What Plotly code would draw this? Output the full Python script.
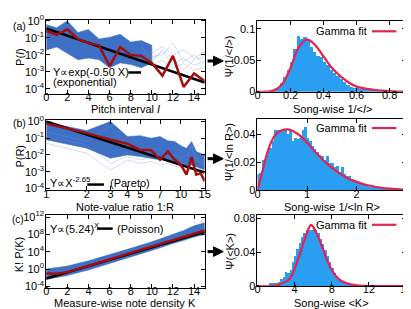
import numpy as np
import plotly.graph_objects as go

W, H = 411, 309
def px(x): return x / W
def py(y): return 1 - y / H

# ---------------- DATA ----------------
# (a) pitch interval
a_x = list(range(0, 16))
a_red_log10 = [-0.60, -0.82, -0.50, -1.07, -1.31, -1.44, -2.66, -1.54, -2.00, -2.06, -2.47, -3.22, -2.06, -3.88, -3.09, -3.54]
a_fit_x = [0, 15]
a_fit_log10 = [-0.45, -3.62]
a_band_x = list(range(0, 11))
a_band_hi_log10 = [-0.22, -0.41, 0.0, -0.69, -0.51, -1.07, -0.97, -0.79, -1.25, -1.16, -1.44]
a_band_lo_log10 = [-1.72, -1.54, -1.91, -2.28, -2.19, -2.28, -2.75, -2.47, -2.57, -2.75, -2.47]
a_tail_x = [9, 10, 11, 12, 13, 14, 15]
a_tail_log10 = [
    [-1.6, -1.9, -1.5, -2.0, -1.7, -2.2, -1.8],
    [-2.0, -2.3, -1.8, -2.5, -2.2, -2.6, -2.4],
    [-2.2, -2.6, -2.3, -2.8, -2.5, -2.9, -2.7],
    [-1.8, -2.1, -2.0, -1.3, -2.4, -2.0, -2.5],
    [-1.5, -2.4, -1.7, -2.2, -2.9, -2.3, -2.1],
]

# (b) note-value ratio
b_x = [1, 2, 3, 4, 5, 6, 7, 8, 9, 10, 11, 12, 13, 14, 15]
b_red_log10 = [-0.13, -0.70, -1.09, -1.33, -1.71, -1.71, -2.29, -1.79, -2.29, -2.61, -3.18, -2.13, -3.18, -3.09, -3.56]
b_fit_x = [1, 15]
b_fit_log10 = [0.0, -3.05]
b_band_x = [1, 2, 3, 4, 5, 6, 7, 8, 9, 10, 11, 12, 13, 14, 15]
b_band_hi_log10 = [-0.05, -0.55, 0.0, -0.9, -0.85, -1.0, -0.9, -1.15, -1.2, -1.45, -1.6, -1.2, -1.8, -1.9, -2.0]
b_band_lo_log10 = [-1.1, -1.6, -2.2, -2.0, -2.1, -2.2, -2.3, -2.3, -2.4, -2.5, -2.6, -2.6, -2.7, -2.8, -2.9]
b_tail_log10 = [
    [-1.3, -1.9, -2.9, -2.3, -2.5, -2.4, -2.6, -2.5, -2.7, -2.7, -2.9, -2.8, -3.0, -2.9, -3.1],
    [-0.9, -1.4, -2.5, -2.1, -2.3, -2.1, -2.2, -2.4, -2.3, -2.6, -2.4, -1.4, -2.3, -2.5, -2.2],
    [-0.6, -1.2, -0.3, -1.5, -1.8, -1.6, -1.7, -1.9, -2.0, -2.2, -2.0, -1.6, -2.1, -2.4, -2.6],
]

# (c) note density
c_x = list(range(0, 16))
c_red_log10 = [-1.0, -1.05, -0.7, 0.0, 0.8, 1.5, 2.2, 3.0, 3.75, 4.4, 5.1, 5.9, 6.7, 7.4, 8.1, 8.9]
c_fit_x = [0, 15]
c_fit_log10 = [-2.2, 8.6]
c_band_x = [0, 2, 4, 6, 8, 10, 12, 13, 14, 15]
c_band_hi_log10 = [0.0, 0.7, 1.9, 3.3, 4.8, 6.3, 8.0, 8.9, 10.0, 10.7]
c_band_lo_log10 = [-2.4, -1.5, -0.2, 1.3, 2.8, 4.3, 5.9, 6.6, 7.4, 8.0]

# right (a) histogram of 1/<I>
ha_x = [0.09, 0.11, 0.13, 0.15, 0.17, 0.19, 0.21, 0.23, 0.25, 0.27, 0.29, 0.31, 0.33, 0.35, 0.37, 0.39,
        0.41, 0.43, 0.45, 0.47, 0.49, 0.51, 0.53, 0.55, 0.57, 0.59, 0.61, 0.63, 0.65, 0.67, 0.69, 0.71,
        0.73, 0.75, 0.77]
ha_y = [0.001, 0.003, 0.007, 0.014, 0.023, 0.035, 0.048, 0.069, 0.089, 0.085, 0.088, 0.082, 0.072, 0.064,
        0.058, 0.055, 0.048, 0.043, 0.035, 0.030, 0.025, 0.020, 0.015, 0.011, 0.008, 0.007, 0.006, 0.005,
        0.004, 0.003, 0.002, 0.002, 0.001, 0.001, 0.001]
ga_x = [0.0, 0.05, 0.1, 0.15, 0.2, 0.25, 0.3, 0.35, 0.4, 0.45, 0.5, 0.55, 0.6, 0.7, 0.8, 0.9]
ga_y = [0.0, 0.0, 0.002, 0.012, 0.038, 0.071, 0.083, 0.074, 0.056, 0.038, 0.025, 0.015, 0.008, 0.003, 0.001, 0.0]

# right (b) histogram of 1/<ln R>
hb_x = [0.025 + 0.05 * i for i in range(60)]
hb_y = [0.011, 0.012, 0.021, 0.022, 0.028, 0.030, 0.035, 0.043, 0.043, 0.042, 0.043, 0.043, 0.040, 0.042,
        0.035, 0.037, 0.036, 0.037, 0.043, 0.045, 0.037, 0.035, 0.031, 0.029, 0.027, 0.025, 0.024, 0.021,
        0.024, 0.019, 0.019, 0.016, 0.017, 0.013, 0.016, 0.011, 0.010, 0.010, 0.008, 0.007, 0.006, 0.005,
        0.0045, 0.004, 0.0035, 0.002, 0.003, 0.002, 0.0015, 0.0013, 0.0015, 0.001, 0.001, 0.001, 0.0015,
        0.001, 0.001, 0.0005, 0.0005, 0.0003]
gb_x = [0.0, 0.1, 0.2, 0.3, 0.4, 0.6, 0.8, 1.0, 1.2, 1.4, 1.6, 1.8, 2.0, 2.2, 2.5, 3.0]
gb_y = [0.0, 0.0135, 0.027, 0.036, 0.041, 0.0434, 0.0405, 0.034, 0.026, 0.019, 0.0135, 0.009, 0.006, 0.0038, 0.0018, 0.0004]

# right (c) histogram of <K>
hc_x = [1.375 + 0.25 * i for i in range(36)]
hc_y = [0.003, 0.003, 0.003, 0.004, 0.005, 0.008, 0.011, 0.016, 0.015, 0.019, 0.028, 0.036, 0.044, 0.051,
        0.058, 0.063, 0.066, 0.066, 0.066, 0.068, 0.066, 0.063, 0.056, 0.050, 0.043, 0.036, 0.028, 0.021,
        0.015, 0.011, 0.0075, 0.005, 0.0035, 0.0025, 0.0015, 0.001]
gc_x = [0, 2, 3, 3.5, 4, 4.5, 5, 5.5, 5.75, 6, 6.5, 7, 7.5, 8, 8.5, 9, 10, 11, 12, 16]
gc_y = [0, 0.0005, 0.005, 0.009, 0.021, 0.036, 0.053, 0.068, 0.0726, 0.070, 0.059, 0.045, 0.030, 0.019, 0.011, 0.0064, 0.002, 0.0005, 0, 0]

log_ticks_ab = [0, -1, -2, -3, -4]
log_ticks_c = [-4, 0, 4, 8, 12]

# ---------------- STYLE ----------------
FONT = "Liberation Sans, Arial, Helvetica, sans-serif"
BAND = "rgb(62,112,198)"
FAINT = "rgba(110,150,215,0.55)"
DARKRED = "#a50d0d"
FITRED = "#e8214f"
HISTBLUE = "#2a9ff2"

fig = go.Figure()

def p10(v):
    return list(10 ** np.array(v, dtype=float))

def band(xs, hi, lo, xa, ya):
    fig.add_trace(go.Scatter(x=list(xs) + list(xs)[::-1], y=p10(hi) + p10(lo)[::-1],
                             fill="toself", fillcolor=BAND, line=dict(color=BAND, width=0.5),
                             mode="lines", xaxis=xa, yaxis=ya, hoverinfo="skip"))

# left (a)
band(a_band_x, a_band_hi_log10, a_band_lo_log10, "x", "y")
for t in a_tail_log10:
    fig.add_trace(go.Scatter(x=a_tail_x, y=p10(t), mode="lines", line=dict(color=FAINT, width=0.6), xaxis="x", yaxis="y"))
fig.add_trace(go.Scatter(x=a_fit_x, y=p10(a_fit_log10), mode="lines", line=dict(color="black", width=2.5), xaxis="x", yaxis="y"))
fig.add_trace(go.Scatter(x=a_x, y=p10(a_red_log10), mode="lines", line=dict(color=DARKRED, width=2.5), xaxis="x", yaxis="y"))

# left (b)
band(b_band_x, b_band_hi_log10, b_band_lo_log10, "x3", "y3")
for t in b_tail_log10:
    fig.add_trace(go.Scatter(x=b_band_x, y=p10(t), mode="lines", line=dict(color=FAINT, width=0.6), xaxis="x3", yaxis="y3"))
fig.add_trace(go.Scatter(x=b_fit_x, y=p10(b_fit_log10), mode="lines", line=dict(color="black", width=2.5), xaxis="x3", yaxis="y3"))
fig.add_trace(go.Scatter(x=b_x, y=p10(b_red_log10), mode="lines", line=dict(color=DARKRED, width=2.5), xaxis="x3", yaxis="y3"))

# left (c)
band(c_band_x, c_band_hi_log10, c_band_lo_log10, "x5", "y5")
fig.add_trace(go.Scatter(x=c_fit_x, y=p10(c_fit_log10), mode="lines", line=dict(color="black", width=2.5), xaxis="x5", yaxis="y5"))
fig.add_trace(go.Scatter(x=c_x, y=p10(c_red_log10), mode="lines", line=dict(color=DARKRED, width=2.5), xaxis="x5", yaxis="y5"))

# right histograms
fig.add_trace(go.Bar(x=ha_x, y=ha_y, width=0.02, marker=dict(color=HISTBLUE, line=dict(width=0)), xaxis="x2", yaxis="y2"))
fig.add_trace(go.Scatter(x=ga_x, y=ga_y, mode="lines", line=dict(color=FITRED, width=2.2, shape="spline"), xaxis="x2", yaxis="y2"))
fig.add_trace(go.Bar(x=hb_x, y=hb_y, width=0.05, marker=dict(color=HISTBLUE, line=dict(width=0)), xaxis="x4", yaxis="y4"))
fig.add_trace(go.Scatter(x=gb_x, y=gb_y, mode="lines", line=dict(color=FITRED, width=2.2, shape="spline"), xaxis="x4", yaxis="y4"))
fig.add_trace(go.Bar(x=hc_x, y=hc_y, width=0.25, marker=dict(color=HISTBLUE, line=dict(width=0)), xaxis="x6", yaxis="y6"))
fig.add_trace(go.Scatter(x=gc_x, y=gc_y, mode="lines", line=dict(color=FITRED, width=2.2, shape="spline"), xaxis="x6", yaxis="y6"))

axbase = dict(showline=True, mirror="ticks", linecolor="black", linewidth=1, ticks="inside", ticklen=4,
              tickcolor="black", showgrid=False, zeroline=False, tickfont=dict(family=FONT, size=11, color="black"))
xbase = dict(axbase, ticklabelstandoff=-7)
ybase = dict(axbase, ticklabelstandoff=-1)

def sup(v):
    return f"10<sup>{v}</sup>"

L = [px(36), px(198)]
R = [px(252), px(404)]
lay = dict(
    xaxis=dict(xbase, domain=L, range=[0, 15], tickvals=list(range(0, 16, 2)), anchor="y"),
    yaxis=dict(ybase, domain=[py(82), py(5)], type="log", range=[-4.27, 0.06], tickvals=[10.0 ** v for v in log_ticks_ab],
               ticktext=[sup(v) for v in log_ticks_ab], anchor="x"),
    xaxis3=dict(xbase, domain=L, type="log", range=[0, np.log10(15)], tickvals=[1, 2, 3, 4, 5, 7, 10, 15], anchor="y3"),
    yaxis3=dict(ybase, domain=[py(183), py(110)], type="log", range=[-4.11, 0.06], tickvals=[10.0 ** v for v in log_ticks_ab],
                ticktext=[sup(v) for v in log_ticks_ab], anchor="x3"),
    xaxis5=dict(xbase, domain=L, range=[0, 15], tickvals=list(range(0, 16, 2)), anchor="y5"),
    yaxis5=dict(ybase, domain=[py(285), py(209)], type="log", range=[-4.37, 12.44], tickvals=[10.0 ** v for v in log_ticks_c],
                ticktext=[sup(v) for v in log_ticks_c], anchor="x5"),
    xaxis2=dict(xbase, domain=R, range=[0, 0.9], tickvals=[0, 0.2, 0.4, 0.6, 0.8], ticktext=["0", "0.2", "0.4", "0.6", "0.8"], anchor="y2"),
    yaxis2=dict(ybase, domain=[py(80), py(6)], range=[0, 0.113], tickvals=[0, 0.05, 0.1], ticktext=["0", "0.05", "0.1"], anchor="x2"),
    xaxis4=dict(xbase, domain=R, range=[0, 3], tickvals=[0, 1, 2, 3], anchor="y4"),
    yaxis4=dict(ybase, domain=[py(183), py(109)], range=[0, 0.0505], tickvals=[0, 0.02, 0.04], ticktext=["0", "0.02", "0.04"], anchor="x4"),
    xaxis6=dict(xbase, domain=R, range=[0, 16], tickvals=[0, 4, 8, 12, 16], anchor="y6"),
    yaxis6=dict(ybase, domain=[py(283), py(209)], range=[0, 0.084], tickvals=[0, 0.04, 0.08], ticktext=["0", "0.04", "0.08"], anchor="x6"),
)

ann = []
def text(x, y, s, size=11, xanchor="center", angle=0):
    ann.append(dict(x=px(x), y=py(y), xref="paper", yref="paper", text=s, showarrow=False, xanchor=xanchor,
                    yanchor="middle", textangle=angle, font=dict(family=FONT, size=size, color="black")))

# panel labels
text(0, 12, "(a)", size=10.5, xanchor="left")
text(0, 113, "(b)", size=10.5, xanchor="left")
text(-1, 213, "(c)", size=10, xanchor="left")
# x titles
text(117, 98, "Pitch interval <i>I</i>")
text(117, 200, "Note-value ratio 1:R")
text(117, 301, "Measure-wise note density K")
text(329, 98, "Song-wise 1/&lt;<i>I</i>&gt;")
text(328, 200, "Song-wise 1/&lt;ln R&gt;")
text(328, 301, "Song-wise &lt;K&gt;")
# y titles
text(9, 44, "P(<i>I</i>)", angle=-90)
text(9, 147, "P(R)", angle=-90)
text(9, 250, "K! P(K)", angle=-90)
text(223, 43, "Ψ(1/&lt;<i>I</i>&gt;)", angle=-90)
text(223, 143, "Ψ(1/&lt;ln R&gt;)", angle=-90)
text(223, 247, "Ψ(&lt;K&gt;)", angle=-90)
# legends
text(41, 60, "Y∝exp(-0.50 X)", xanchor="left")
text(41, 70, "(exponential)", xanchor="left")
text(38, 174, "Y∝X<sup>-2.65</sup>", xanchor="left")
text(99, 175, "(Pareto)", xanchor="left")
text(38, 222, "Y∝(5.24)<sup>X</sup>", xanchor="left")
text(106, 223, "(Poisson)", xanchor="left")
for yy in (17, 118, 219):
    text(366, yy, "Gamma fit", xanchor="right")

shapes = []
def seg(x0, x1, y, color, w):
    shapes.append(dict(type="line", xref="paper", yref="paper", x0=px(x0), x1=px(x1), y0=py(y), y1=py(y),
                       line=dict(color=color, width=w)))
seg(120, 133, 60, "black", 2.5)
seg(78, 95, 177, "black", 2.5)
seg(88, 104, 223, "black", 2.5)
for yy in (17, 118, 219):
    seg(369, 394, yy, FITRED, 2.2)
# arrows between panels
for yy in (48, 150, 247):
    seg(201, 209, yy, "black", 3)
    shapes.append(dict(type="path", xref="paper", yref="paper",
                       path=f"M {px(207)},{py(yy-5)} L {px(217)},{py(yy)} L {px(207)},{py(yy+5)} Z",
                       fillcolor="black", line=dict(color="black", width=1)))

fig.update_layout(width=W, height=H, autosize=False, margin=dict(l=0, r=0, t=0, b=0),
                  paper_bgcolor="white", plot_bgcolor="white", showlegend=False,
                  bargap=0, annotations=ann, shapes=shapes, **lay)
fig.write_html("out.html")
